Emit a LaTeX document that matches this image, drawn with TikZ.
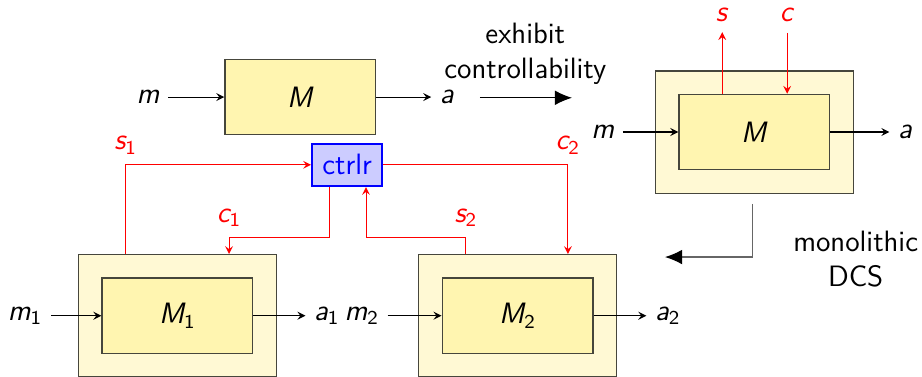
\documentclass[tikz,border=0pt]{standalone}
\usepackage{amsmath}
\usepackage{xcolor}
\usepackage{tikz}
\usetikzlibrary{positioning,arrows.meta}
\renewcommand{\familydefault}{\sfdefault}
\definecolor{Shell}{RGB}{255, 249, 212}
\definecolor{Core}{RGB}{255, 245, 176}
\definecolor{Edge}{RGB}{70, 70, 60}
\definecolor{CtrlFill}{RGB}{204, 204, 255}
\newcommand{\var}[2]{$\textsl{#1}_{\textsf{#2}}$}

\begin{document}
\begin{tikzpicture}[
    every node/.style={font=\large},
    core/.style={rectangle, draw=Edge, fill=Core, line width=0.5pt, minimum width=2.16cm, minimum height=1.08cm},
    shell/.style={rectangle, draw=Edge, fill=Shell, line width=0.5pt, minimum width=2.84cm, minimum height=1.75cm},
    ctrlbox/.style={rectangle, draw=blue, fill=CtrlFill, line width=1pt, text=blue, minimum width=1cm, minimum height=0.6cm},
    arr/.style={->, >=stealth, line width=0.45pt},
    sig/.style={->, >=stealth, red, line width=0.4pt},
    bigarr/.style={-{Latex[length=7pt,width=6pt,color=black]}, line width=0.5pt},
    lbl/.style={text=red, inner sep=1pt},
]
\useasboundingbox (0,0) rectangle (13.2,-5.383);

% plain model
\node[core] (topM) at (4.30,-1.39) {\textsl{M}};
\node (topm) at (2.12,-1.39) {\textsl{m}};
\node (topa) at (6.40,-1.39) {\textsl{a}};
\draw[arr] (topm) -- (topM);
\draw[arr] (topM) -- (topa);

\node[align=center, inner sep=1pt] (exhibit) at (7.52,-0.77) {exhibit\\controllability};
\coordinate (exA) at (6.87,-1.40);
\coordinate (exB) at (8.19,-1.40);
\draw[bigarr] (exA) -- (exB);

% controllable model
\node[shell] (shellR) at (10.80,-1.89) {};
\node[core] (coreR) at (10.80,-1.89) {\textsl{M}};
\node (mR) at (8.63,-1.89) {\textsl{m}};
\node (aR) at (12.96,-1.89) {\textsl{a}};
\draw[arr] (mR) -- (coreR);
\draw[arr] (coreR) -- (aR);
\node[lbl] (sR) at (10.34,-0.21) {\textsl{s}};
\node[lbl] (cR) at (11.27,-0.21) {\textsl{c}};
\draw[sig] (coreR.north -| sR) -- ++(0,0.88);
\draw[sig] ([yshift=-0.12cm]cR.south) -- (coreR.north -| cR);

\node[align=center] (mono) at (12.25,-3.71) {monolithic\\DCS};
\coordinate (dcsA) at (10.77,-2.92);
\coordinate (dcsB) at (9.52,-3.68);
\draw[bigarr, black!60] (dcsA) |- (dcsB);

% distributed system
\node[shell] (shellA) at (2.54,-4.52) {};
\node[core] (coreA) at (2.54,-4.52) {\var{M}{1}};
\node (mA) at (0.36,-4.52) {\var{m}{1}};
\node (aA) at (4.68,-4.52) {\var{a}{1}};
\draw[arr] (mA) -- (coreA);
\draw[arr] (coreA) -- (aA);

\node[shell] (shellB) at (7.41,-4.52) {};
\node[core] (coreB) at (7.41,-4.52) {\var{M}{2}};
\node (mB) at (5.18,-4.52) {\var{m}{2}};
\node (aB) at (9.56,-4.52) {\var{a}{2}};
\draw[arr] (mB) -- (coreB);
\draw[arr] (coreB) -- (aB);

\node[ctrlbox] (ctrlr) at (4.97,-2.36) {ctrlr};

\node[lbl] (s1) at (1.80,-2.08) {\var{s}{1}};
\node[lbl] (c1) at (3.28,-3.12) {\var{c}{1}};
\node[lbl] (s2) at (6.67,-3.12) {\var{s}{2}};
\node[lbl] (c2) at (8.13,-2.08) {\var{c}{2}};

\draw[sig] (shellA.north -| s1) |- (ctrlr.west);
\draw[sig] ([xshift=-0.26cm]ctrlr.south) |- ([yshift=0.23cm]shellA.north -| c1) -- (shellA.north -| c1);
\draw[sig] (shellB.north -| s2) |- ([xshift=0.27cm,yshift=0.23cm]ctrlr.south |- shellB.north) -- ([xshift=0.27cm]ctrlr.south);
\draw[sig] (ctrlr.east) -| (shellB.north -| c2);
\end{tikzpicture}
\end{document}
